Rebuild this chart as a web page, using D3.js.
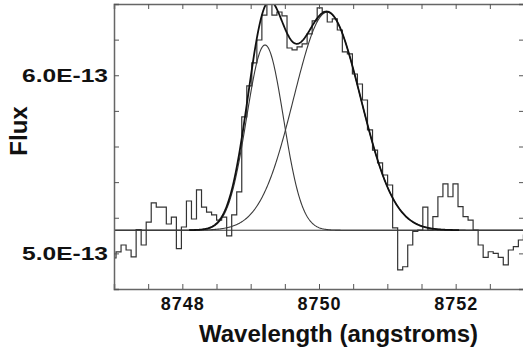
<!DOCTYPE html>
<html>
<head>
<meta charset="utf-8">
<script src="https://cdn.jsdelivr.net/npm/d3@7"></script>
<style>
  html, body { margin: 0; padding: 0; background: #fff; }
  svg { display: block; font-family: "Liberation Sans", Arial, sans-serif; }
</style>
</head>
<body>
<div id="chart"></div>
<script>
// observed spectrum, flux in units of 1e-13, one value per wavelength bin
const binStart = 8746.956;   // angstroms, left edge of first bin
const binWidth = 0.0736;     // angstroms
const fluxBins = [
  4.974, 5.008, 5.047, 5.019, 4.980, 5.134, 5.047, 5.176, 5.283, 5.260,
  5.260, 5.165, 5.204, 5.027, 5.148, 5.294, 5.193, 5.356, 5.260, 5.232,
  5.216, 5.187, 5.204, 5.098, 5.216, 5.345, 5.766, 5.940, 6.069, 6.198,
  6.338, 6.400, 6.338, 6.355, 6.333, 6.153, 6.142, 6.159, 6.176, 6.232,
  6.305, 6.378, 6.355, 6.299, 6.316, 6.254, 6.131, 6.120, 6.007, 5.951,
  5.861, 5.693, 5.580, 5.508, 5.440, 5.384, 5.143, 4.907, 4.925, 5.047,
  5.123, 5.131, 5.260, 5.131, 5.206, 5.318, 5.390, 5.318, 5.390, 5.262,
  5.206, 5.187, 5.131, 5.047, 4.978, 5.009, 5.000, 4.978, 4.935, 5.019,
  5.038, 5.075, 5.103
];

// two-gaussian fit on a flat continuum
const continuum = 5.13;
const components = [
  { center: 8749.21, sigma: 0.27, amp: 1.04 },
  { center: 8750.12, sigma: 0.49, amp: 1.224 }
];
const fitRange = [8748.1, 8752.05];

const xDomain = [8747, 8753];
const yDomain = [4.8, 6.4];
const xTicks = d3.range(8747, 8753.01, 0.5);
const xLabels = [8748, 8750, 8752];
const yTicks = d3.range(4.8, 6.41, 0.2);
const yLabels = [5.0, 6.0];

const margin = { top: 4, right: -1, bottom: 62, left: 114 },
      width = 523 - margin.left - margin.right,
      height = 351 - margin.top - margin.bottom;

const svg = d3.select('#chart')
  .append('svg')
  .attr('width', 523)
  .attr('height', 351);

const g = svg.append('g')
  .attr('transform', `translate(${margin.left},${margin.top})`);

const x = d3.scaleLinear().domain(xDomain).range([0, width]);
const y = d3.scaleLinear().domain(yDomain).range([height, 0]);

svg.append('defs').append('clipPath')
  .attr('id', 'plot-clip')
  .append('rect')
  .attr('width', width)
  .attr('height', height);

const plot = g.append('g').attr('clip-path', 'url(#plot-clip)');

// continuum
plot.append('line')
  .attr('x1', 0).attr('x2', width)
  .attr('y1', y(continuum)).attr('y2', y(continuum))
  .attr('stroke', '#333')
  .attr('stroke-width', 1);

// histogram of the data
const steps = fluxBins.map((v, i) => ({ w: binStart + i * binWidth, v }));
steps.push({ w: binStart + fluxBins.length * binWidth, v: fluxBins[fluxBins.length - 1] });

plot.append('path')
  .datum(steps)
  .attr('fill', 'none')
  .attr('stroke', '#333')
  .attr('stroke-width', 1.2)
  .attr('d', d3.line().curve(d3.curveStepAfter).x(d => x(d.w)).y(d => y(d.v)));

const gauss = (c, w) => c.amp * Math.exp(-((w - c.center) ** 2) / (2 * c.sigma * c.sigma));
const line = d3.line().x(d => x(d[0])).y(d => y(d[1]));

// individual components
const fullGrid = d3.range(xDomain[0], xDomain[1] + 0.005, 0.01);
components.forEach(c => {
  plot.append('path')
    .datum(fullGrid.map(w => [w, continuum + gauss(c, w)]))
    .attr('fill', 'none')
    .attr('stroke', '#3a3a3a')
    .attr('stroke-width', 1.1)
    .attr('d', line);
});

// total fit
const fitGrid = d3.range(fitRange[0], fitRange[1] + 0.005, 0.01);
plot.append('path')
  .datum(fitGrid.map(w => [w, continuum + d3.sum(components, c => gauss(c, w))]))
  .attr('fill', 'none')
  .attr('stroke', '#111')
  .attr('stroke-width', 1.8)
  .attr('d', line);

// axes, ticks point inward
const xAxis = g.append('g')
  .attr('transform', `translate(0,${height})`)
  .call(d3.axisBottom(x).tickValues(xTicks).tickSize(-5).tickPadding(8)
    .tickFormat(d => xLabels.some(l => Math.abs(l - d) < 1e-6) ? d3.format('d')(d) : ''));

g.append('g')
  .call(d3.axisTop(x).tickValues(xTicks).tickSize(-5).tickFormat(''));

const yAxis = g.append('g')
  .call(d3.axisLeft(y).tickValues(yTicks).tickSize(-5).tickPadding(6)
    .tickFormat(d => yLabels.some(l => Math.abs(l - d) < 1e-6) ? d.toFixed(1) + 'E-13' : ''));

g.append('g')
  .attr('transform', `translate(${width},0)`)
  .call(d3.axisRight(y).tickValues(yTicks).tickSize(-5).tickFormat(''));

g.selectAll('.domain').attr('stroke', '#666').attr('stroke-width', 1.5);
g.selectAll('.tick line').attr('stroke', '#555').attr('stroke-width', 1);

xAxis.selectAll('text')
  .style('font-size', '18px')
  .style('font-weight', 'bold')
  .style('letter-spacing', '1px')
  .attr('fill', '#111');

yAxis.selectAll('text')
  .filter(function () { return this.textContent !== ''; })
  .style('font-size', '18px')
  .style('font-weight', 'bold')
  .attr('fill', '#111')
  .attr('textLength', 86)
  .attr('lengthAdjust', 'spacingAndGlyphs');

// axis titles
svg.append('text')
  .attr('x', 338.5)
  .attr('y', 341.5)
  .attr('text-anchor', 'middle')
  .style('font-size', '24px')
  .style('font-weight', 'bold')
  .attr('fill', '#111')
  .text('Wavelength (angstroms)');

svg.append('text')
  .attr('transform', 'translate(26.5,131) rotate(-90)')
  .attr('text-anchor', 'middle')
  .style('font-size', '24px')
  .style('font-weight', 'bold')
  .attr('fill', '#111')
  .text('Flux');
</script>
</body>
</html>
